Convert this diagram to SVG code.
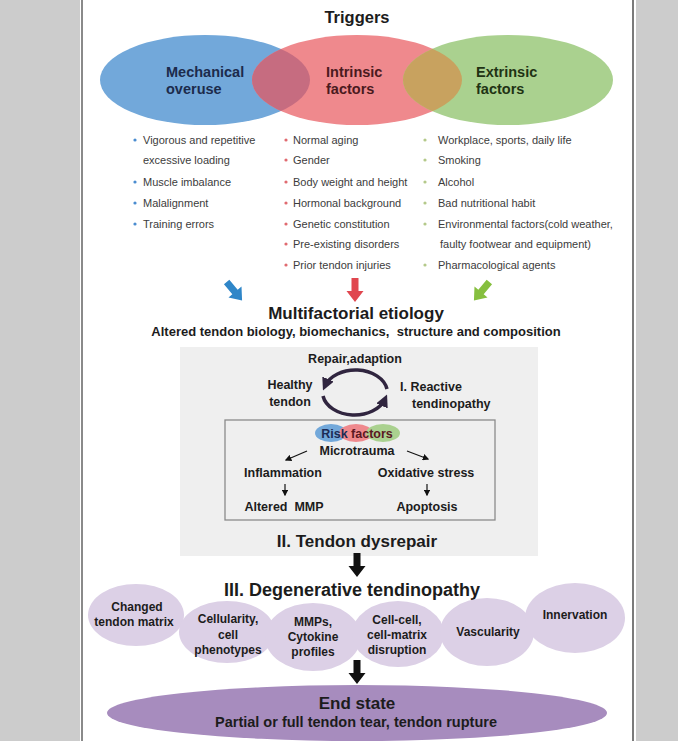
<svg xmlns="http://www.w3.org/2000/svg" width="678" height="741" viewBox="0 0 678 741">
<style>
.h{font-family:"Liberation Sans",Arial,sans-serif;font-weight:bold;fill:#1c1c1c}
.b{font-family:"Liberation Sans",Arial,sans-serif;font-size:11px;fill:#3c3c3c}
.m{font-size:12.5px}
.e{font-size:12px;text-anchor:middle}
.c{text-anchor:middle}
.pe{fill:#dcd0e6}
.thin{stroke:#111;stroke-width:1.2;fill:none;marker-end:url(#ah)}
.cyc{stroke:#30253f;stroke-width:3.5;fill:none;marker-end:url(#ch)}
</style>
<defs>
<marker id="ah" viewBox="0 0 10 10" refX="8" refY="5" markerWidth="5.5" markerHeight="5.5" orient="auto"><path d="M0,0 L10,5 L0,10 z" fill="#111"/></marker>
<marker id="ch" viewBox="0 0 10 10" refX="6" refY="5" markerWidth="3.6" markerHeight="3.6" orient="auto"><path d="M0,0 L10,5 L0,10 z" fill="#30253f"/></marker>
<clipPath id="cb"><ellipse cx="205" cy="80" rx="105" ry="45"/></clipPath>
<clipPath id="cg"><ellipse cx="508" cy="80" rx="105" ry="45"/></clipPath>
<polygon id="bigdown" points="-3.5,-13 3.5,-13 3.5,0 8.5,0 0,11 -8.5,0 -3.5,0"/>
</defs>
<rect x="0" y="0" width="678" height="741" fill="#cccccc"/>
<rect x="80" y="0" width="556" height="741" fill="#ffffff"/>
<line x1="82" y1="0" x2="82" y2="741" stroke="#8a8a8a" stroke-width="2"/>
<line x1="633" y1="0" x2="633" y2="741" stroke="#7a7a7a" stroke-width="2"/>

<g id="triggers">
<text class="h c" x="357" y="23" font-size="16.5">Triggers</text>
</g>
<g id="mechanical">
<ellipse cx="205" cy="80" rx="105" ry="45" fill="#72a8da"/>
</g>
<g id="intrinsic">
<ellipse cx="357" cy="80" rx="105" ry="45" fill="#ef898d"/>
<ellipse cx="357" cy="80" rx="105" ry="45" fill="#c66c80" clip-path="url(#cb)"/>
</g>
<g id="extrinsic">
<ellipse cx="508" cy="80" rx="105" ry="45" fill="#aad18f"/>
<ellipse cx="357" cy="80" rx="105" ry="45" fill="#c8a25f" clip-path="url(#cg)"/>
</g>
<g id="venn-labels" font-family="Liberation Sans, Arial, sans-serif" font-weight="bold" font-size="14.5">
<text x="166" y="77" fill="#1c2b4c">Mechanical</text>
<text x="166" y="94" fill="#1c2b4c">overuse</text>
<text x="326" y="77" fill="#4a1a1e">Intrinsic</text>
<text x="326" y="94" fill="#4a1a1e">factors</text>
<text x="476" y="77" fill="#1f3314">Extrinsic</text>
<text x="476" y="94" fill="#1f3314">factors</text>
</g>

<g id="list-mechanical">
<g fill="#4a8cd0"><circle cx="135" cy="140" r="1.6"/><circle cx="135" cy="182" r="1.6"/><circle cx="135" cy="203" r="1.6"/><circle cx="135" cy="224" r="1.6"/></g>
<text class="b" x="143" y="144">Vigorous and repetitive</text>
<text class="b" x="143" y="164">excessive loading</text>
<text class="b" x="143" y="186">Muscle imbalance</text>
<text class="b" x="143" y="207">Malalignment</text>
<text class="b" x="143" y="228">Training errors</text>
</g>
<g id="list-intrinsic">
<g fill="#e06a70"><circle cx="286" cy="140" r="1.6"/><circle cx="286" cy="160" r="1.6"/><circle cx="286" cy="182" r="1.6"/><circle cx="286" cy="203" r="1.6"/><circle cx="286" cy="224" r="1.6"/><circle cx="286" cy="244" r="1.6"/><circle cx="286" cy="265" r="1.6"/></g>
<text class="b" x="293" y="144">Normal aging</text>
<text class="b" x="293" y="164">Gender</text>
<text class="b" x="293" y="186">Body weight and height</text>
<text class="b" x="293" y="207">Hormonal background</text>
<text class="b" x="293" y="228">Genetic constitution</text>
<text class="b" x="293" y="248">Pre-existing disorders</text>
<text class="b" x="293" y="269">Prior tendon injuries</text>
</g>
<g id="list-extrinsic">
<g fill="#b4c98a"><circle cx="425" cy="140" r="1.6"/><circle cx="425" cy="160" r="1.6"/><circle cx="425" cy="182" r="1.6"/><circle cx="425" cy="203" r="1.6"/><circle cx="425" cy="224" r="1.6"/><circle cx="425" cy="265" r="1.6"/></g>
<text class="b" x="438" y="144">Workplace, sports, daily life</text>
<text class="b" x="438" y="164">Smoking</text>
<text class="b" x="438" y="186">Alcohol</text>
<text class="b" x="438" y="207">Bad nutritional habit</text>
<text class="b" x="438" y="228">Environmental factors(cold weather,</text>
<text class="b" x="440" y="248">faulty footwear and equipment)</text>
<text class="b" x="438" y="269">Pharmacological agents</text>
</g>

<g id="etiology">
<text class="h c" x="356" y="319" font-size="17">Multifactorial etiology</text>
<text class="h c" x="356" y="336" font-size="13" xml:space="preserve">Altered tendon biology, biomechanics,  structure and composition</text>
</g>

<g id="dysrepair-box">
<rect x="180" y="347" width="358" height="209" fill="#efefef"/>
<text class="h m c" x="355" y="363">Repair,adaption</text>
<text class="h m c" x="290" y="389">Healthy</text>
<text class="h m c" x="290" y="406">tendon</text>
<text class="h m" x="400" y="391">I. Reactive</text>
<text class="h m" x="412" y="408">tendinopathy</text>
<rect x="225" y="420" width="270" height="100" fill="none" stroke="#8a8a8a" stroke-width="1.3"/>
<ellipse cx="331" cy="433" rx="16" ry="9" fill="#72a8da"/>
<ellipse cx="356" cy="433" rx="17" ry="9" fill="#ef898d"/>
<ellipse cx="383" cy="433" rx="17" ry="9" fill="#aad18f"/>
<text class="h m c" x="357" y="438"><tspan fill="#1c2b55">Risk</tspan><tspan fill="#5a1822"> factors</tspan></text>
<text class="h m c" x="357" y="455">Microtrauma</text>
<text class="h m c" x="283" y="477">Inflammation</text>
<text class="h m c" x="426" y="477">Oxidative stress</text>
<text class="h m c" x="284" y="511" xml:space="preserve">Altered  MMP</text>
<text class="h m c" x="427" y="511">Apoptosis</text>
<text class="h c" x="357" y="547" font-size="17">II. Tendon dysrepair</text>
</g>

<g id="degenerative">
<text class="h c" x="352" y="596" font-size="18">III. Degenerative tendinopathy</text>
</g>
<g id="n-matrix"><ellipse class="pe" cx="136" cy="615" rx="48" ry="31"/>
<text class="h e" x="137" y="611">Changed</text><text class="h e" x="134" y="626">tendon matrix</text></g>
<g id="n-cellularity"><ellipse class="pe" cx="227" cy="632" rx="48" ry="31"/>
<text class="h e" x="228" y="623">Cellularity,</text><text class="h e" x="228" y="639">cell</text><text class="h e" x="228" y="654">phenotypes</text></g>
<g id="n-mmps"><ellipse class="pe" cx="313" cy="637" rx="48" ry="34"/>
<text class="h e" x="313" y="626">MMPs,</text><text class="h e" x="313" y="641">Cytokine</text><text class="h e" x="313" y="656">profiles</text></g>
<g id="n-cellcell"><ellipse class="pe" cx="398" cy="634" rx="46" ry="33"/>
<text class="h e" x="397" y="624">Cell-cell,</text><text class="h e" x="397" y="639">cell-matrix</text><text class="h e" x="397" y="654">disruption</text></g>
<g id="n-vascularity"><ellipse class="pe" cx="487" cy="632" rx="47" ry="34"/>
<text class="h e" x="488" y="636">Vascularity</text></g>
<g id="n-innervation"><ellipse class="pe" cx="575" cy="618" rx="50" ry="35"/>
<text class="h e" x="575" y="619">Innervation</text></g>

<g id="end-state">
<ellipse cx="357" cy="713" rx="250" ry="28" fill="#a78cbe"/>
<text class="h c" x="357" y="709" font-size="17">End state</text>
<text class="h c" x="356" y="727" font-size="14.5">Partial or full tendon tear, tendon rupture</text>
</g>

<g id="connectors">
<use href="#bigdown" transform="translate(235,292) rotate(-40)" fill="#2f86c8"/>
<use href="#bigdown" transform="translate(355,291)" fill="#e0474f"/>
<use href="#bigdown" transform="translate(481,292) rotate(40)" fill="#86bf3f"/>
<path class="cyc" d="M387,389 A32,23 0 0 0 325,386"/>
<path class="cyc" d="M323,396 A32,23 0 0 0 385,399"/>
<line class="thin" x1="307" y1="451" x2="286" y2="460"/>
<line class="thin" x1="407" y1="451" x2="428" y2="459"/>
<line class="thin" x1="285" y1="484" x2="285" y2="495"/>
<line class="thin" x1="427" y1="484" x2="427" y2="495"/>
<use href="#bigdown" transform="translate(357,566)" fill="#111"/>
<use href="#bigdown" transform="translate(357,673)" fill="#111"/>
</g>
</svg>
